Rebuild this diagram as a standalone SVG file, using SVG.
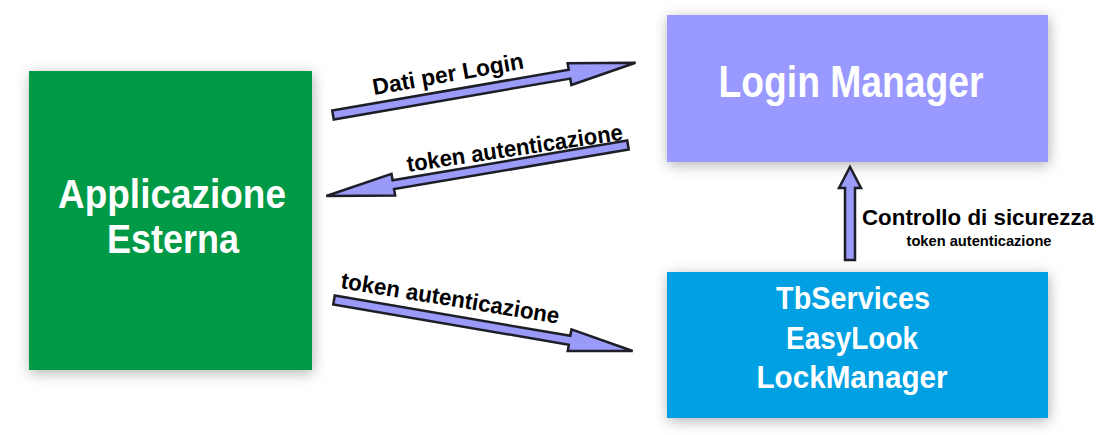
<svg xmlns="http://www.w3.org/2000/svg" width="1109" height="435" viewBox="0 0 1109 435">
<style>
.title{font-family:"Liberation Sans",Arial,sans-serif;font-weight:bold;fill:#ffffff;text-anchor:middle}
.lbl{font-family:"Liberation Sans",Arial,sans-serif;font-weight:bold;fill:#000000}
.arrow{fill:#9a9af8;stroke:#1e1e28;stroke-width:2.5;stroke-linejoin:miter}
</style>
<defs>
<filter id="sh" x="-20%" y="-20%" width="140%" height="140%">
<feDropShadow dx="1" dy="3" stdDeviation="7" flood-color="#000" flood-opacity="0.3"/>
</filter>
</defs>
<rect width="1109" height="435" fill="#ffffff"/>
<g id="app">
<rect x="29" y="71" width="283" height="299" fill="#009944" filter="url(#sh)"/>
<text class="title" font-size="40"><tspan x="172" y="208" textLength="228" lengthAdjust="spacingAndGlyphs">Applicazione</tspan><tspan x="173" y="253" textLength="132" lengthAdjust="spacingAndGlyphs">Esterna</tspan></text>
</g>
<g id="login">
<rect x="667" y="15" width="381" height="147" fill="#9999ff" filter="url(#sh)"/>
<text class="title" x="851" y="97" font-size="44" textLength="265" lengthAdjust="spacingAndGlyphs">Login Manager</text>
</g>
<g id="services">
<rect x="667" y="272" width="381" height="146" fill="#00a0e2" filter="url(#sh)"/>
<text class="title" x="853" y="309" font-size="32" textLength="154" lengthAdjust="spacingAndGlyphs">TbServices</text>
<text class="title" x="852" y="349" font-size="32" textLength="132" lengthAdjust="spacingAndGlyphs">EasyLook</text>
<text class="title" x="852" y="388" font-size="32" textLength="191" lengthAdjust="spacingAndGlyphs">LockManager</text>
</g>
<g id="connectors">
<polygon class="arrow" transform="translate(333,115) rotate(-9.8)" points="0,-4.5 240,-4.5 240,-11 307,0 240,11 240,4.5 0,4.5"/>
<polygon class="arrow" transform="translate(628,145) rotate(170.4)" points="0,-4.5 238,-4.5 238,-11 306,0 238,11 238,4.5 0,4.5"/>
<polygon class="arrow" transform="translate(334,300) rotate(9.7)" points="0,-4.5 239,-4.5 239,-11 303,0 239,11 239,4.5 0,4.5"/>
<polygon class="arrow" points="845,260 845,188 839,188 850,167 861,188 855,188 855,260"/>
<text class="lbl" transform="translate(374,95) rotate(-10)" font-size="23" textLength="153" lengthAdjust="spacingAndGlyphs">Dati per Login</text>
<text class="lbl" transform="translate(408,172) rotate(-8.5)" font-size="23" textLength="218" lengthAdjust="spacingAndGlyphs">token autenticazione</text>
<text class="lbl" transform="translate(340,288) rotate(9.3)" font-size="23" textLength="221" lengthAdjust="spacingAndGlyphs">token autenticazione</text>
<text class="lbl" x="978" y="225" font-size="22" text-anchor="middle" textLength="232" lengthAdjust="spacingAndGlyphs">Controllo di sicurezza</text>
<text class="lbl" x="979" y="246" font-size="15" text-anchor="middle" textLength="145" lengthAdjust="spacingAndGlyphs">token autenticazione</text>
</g>
</svg>
